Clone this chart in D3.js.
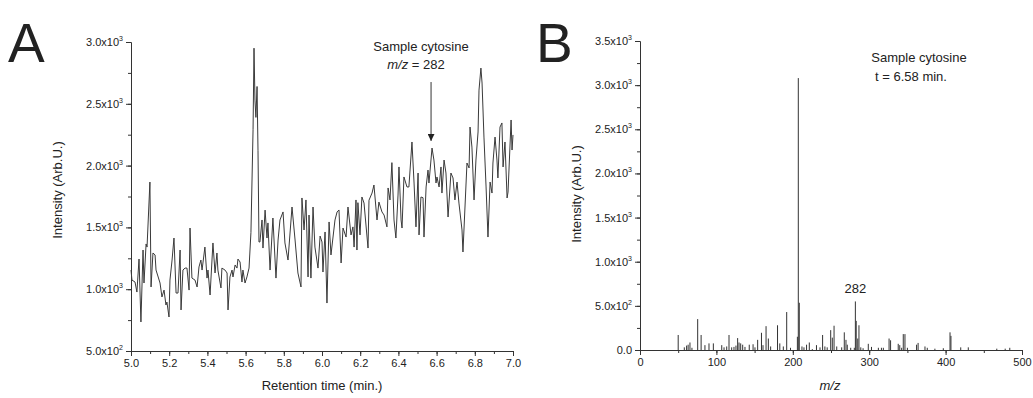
<!DOCTYPE html>
<html lang="en">
  <head>
    <meta charset="UTF-8" />
    <title>Sample cytosine</title>
    <style>
      body {
        margin: 0;
        padding: 0;
        background-color: #ffffff;
        font-family: "Liberation Sans", Arial, sans-serif;
      }
      svg text {
        fill: #222;
      }
      .axis path,
      .axis line {
        stroke: #333;
      }
    </style>
  </head>
  <body>
    <svg id="chart" width="1033" height="398"></svg>

    <script src="https://d3js.org/d3.v7.min.js"></script>
    <script>
      // panel A: retention time (min.) vs intensity
      const retentionTimes = [
        5.000, 5.005, 5.021, 5.031, 5.042, 5.052, 5.063, 5.068, 5.079, 5.084,
        5.099, 5.105, 5.115, 5.126, 5.131, 5.152, 5.162, 5.173, 5.183, 5.188,
        5.199, 5.204, 5.215, 5.225, 5.236, 5.246, 5.257, 5.262, 5.272, 5.283,
        5.293, 5.304, 5.309, 5.319, 5.335, 5.346, 5.356, 5.366, 5.372, 5.387,
        5.398, 5.403, 5.414, 5.429, 5.440, 5.450, 5.455, 5.471, 5.476, 5.492,
        5.503, 5.508, 5.518, 5.529, 5.534, 5.545, 5.555, 5.560, 5.571, 5.581,
        5.586, 5.597, 5.607, 5.618, 5.628, 5.639, 5.644, 5.649, 5.654, 5.660,
        5.665, 5.670, 5.675, 5.686, 5.691, 5.702, 5.712, 5.717, 5.728, 5.743,
        5.759, 5.770, 5.780, 5.796, 5.806, 5.822, 5.843, 5.859, 5.874, 5.890,
        5.895, 5.906, 5.916, 5.927, 5.932, 5.942, 5.953, 5.963, 5.979, 5.990,
        6.000, 6.005, 6.016, 6.026, 6.037, 6.047, 6.068, 6.079, 6.089, 6.100,
        6.110, 6.126, 6.136, 6.152, 6.162, 6.168, 6.178, 6.183, 6.188, 6.199,
        6.209, 6.220, 6.241, 6.246, 6.262, 6.272, 6.288, 6.298, 6.314, 6.325,
        6.340, 6.346, 6.356, 6.366, 6.377, 6.387, 6.398, 6.403, 6.414, 6.419,
        6.429, 6.445, 6.455, 6.471, 6.482, 6.492, 6.503, 6.508, 6.518, 6.529,
        6.534, 6.545, 6.555, 6.560, 6.576, 6.586, 6.597, 6.602, 6.613, 6.623,
        6.628, 6.639, 6.649, 6.660, 6.675, 6.686, 6.696, 6.707, 6.717, 6.733,
        6.738, 6.759, 6.770, 6.775, 6.785, 6.796, 6.806, 6.817, 6.822, 6.832,
        6.838, 6.848, 6.859, 6.869, 6.880, 6.890, 6.895, 6.906, 6.916, 6.921,
        6.932, 6.942, 6.948, 6.958, 6.969, 6.974, 6.990, 6.995, 7.000
      ];
      const intensitiesA = [
        1155, 1074, 1058, 977, 1244, 735, 1317, 1050, 1366, 1341,
        1867, 1018, 1293, 1277, 1155, 1050, 937, 993, 872, 896,
        775, 1074, 1236, 1414, 969, 969, 1317, 832, 1155, 1171,
        1171, 993, 1495, 1090, 1074, 1018, 1180, 1236, 1155, 1341,
        1090, 1155, 953, 1374, 1131, 1293, 1155, 1010, 1171, 1155,
        1131, 832, 1099, 1155, 1099, 1196, 1171, 1244, 1220, 1058,
        1155, 1050, 1099, 1171, 1460, 2290, 2950, 2530, 2390, 2640,
        2120, 1382, 1382, 1560, 1333, 1640, 1414, 1536, 1155, 1576,
        1090, 1398, 1560, 1625, 1374, 1236, 1665, 1398, 1131, 1018,
        1738, 1479, 1722, 1099, 1600, 1090, 1665, 1341, 1171, 1430,
        1382, 1139, 1463, 888, 1544, 1277, 1560, 1625, 1641, 1212,
        1495, 1422, 1665, 1439, 1504, 1341, 1722, 1317, 1700, 1439,
        1746, 1697, 1333, 1720, 1778, 1843, 1560, 1705, 1625, 1600,
        1504, 1819, 1722, 2024, 1560, 1414, 1762, 1989, 1560, 1495,
        1908, 1827, 1827, 2191, 1859, 1504, 1940, 1439, 1746, 1740,
        1422, 1827, 1964, 1859, 2142, 2045, 1859, 1908, 1827, 1989,
        1778, 2045, 1940, 1584, 1940, 1900, 1722, 1867, 1697, 1479,
        1301, 2021, 1981, 2312, 2150, 1722, 2045, 2272, 2611, 2789,
        2668, 2231, 1827, 1422, 1867, 1778, 2021, 2231, 2045, 1900,
        2312, 2345, 1989, 2191, 1738, 1786, 2369, 2126, 2248
      ];
      const yTicksA = [500, 1000, 1500, 2000, 2500, 3000];
      const xTicksA = [5.0, 5.2, 5.4, 5.6, 5.8, 6.0, 6.2, 6.4, 6.6, 6.8, 7.0];

      // panel B: mass spectrum at t = 6.58 min.
      const mzValues = [
        50, 58, 61, 63, 65.4, 68, 75.5, 80, 85, 90.3,
        96, 107, 110, 113.5, 116.5, 120, 123, 125.6, 127.8, 129.6,
        131.8, 134.4, 137.4, 143, 148, 150.5, 154, 159, 161, 165,
        168, 171, 180, 183, 187.6, 192, 197, 206, 207.2, 208.5,
        212, 214.6, 218, 221.6, 225.5, 231, 235.6, 239, 242, 245,
        249.6, 251.7, 254, 257.5, 264, 267.4, 269.6, 271.3, 275.8, 280.5,
        281.9, 283, 285, 286.6, 289, 292, 298.8, 303, 312, 316,
        318.5, 326, 328, 338, 340, 342.5, 344.6, 346.8, 350, 362,
        364, 373, 376, 386, 397, 405.8, 407, 419.8, 429.7, 467,
        478, 484
      ];
      const intensitiesB = [
        170, 30, 50, 60, 85, 25, 350, 170, 55, 75,
        75, 55, 30, 40, 170, 30, 35, 50, 135, 85,
        75, 60, 35, 60, 65, 30, 115, 195, 55, 270,
        130, 40, 280, 75, 40, 430, 25, 150, 3080, 535,
        40, 30, 60, 85, 10, 55, 30, 170, 40, 30,
        225, 140, 275, 40, 30, 200, 115, 60, 25, 25,
        550, 330, 130, 280, 30, 20, 70, 35, 25, 25,
        25, 130, 110, 70, 55, 25, 180, 180, 25, 60,
        80, 40, 25, 15, 20, 200, 160, 30, 30, 15,
        15, 25
      ];
      const yTicksB = [0, 500, 1000, 1500, 2000, 2500, 3000, 3500];
      const xTicksB = [0, 100, 200, 300, 400, 500];

      const svg = d3.select("#chart");

      const xA = d3.scaleLinear().domain([5.0, 7.0]).range([131, 513]);
      const yA = d3.scaleLinear().domain([500, 3000]).range([351, 42]);
      const xB = d3.scaleLinear().domain([0, 500]).range([640, 1022]);
      const yB = d3.scaleLinear().domain([0, 3500]).range([350, 41]);

      // labels like 2.5x10^3 with a small raised exponent
      function sciLabel(sel) {
        sel.each(function (d) {
          const t = d3.select(this).text("");
          if (d === 0) {
            t.text("0.0");
            return;
          }
          const e = Math.floor(Math.log10(d));
          const m = (d / Math.pow(10, e)).toFixed(1);
          t.append("tspan").text(m + "x10");
          t.append("tspan")
            .attr("dy", -5)
            .attr("font-size", 7)
            .text(e);
        });
      }

      function drawAxes(x, y, xTicks, xMinor, yTicks, yMinor, xFmt) {
        const g = svg.append("g");
        const xAxis = g
          .append("g")
          .attr("class", "axis")
          .attr("transform", `translate(0,${y.range()[0]})`);
        xAxis.call(
          d3.axisBottom(x).tickValues(xMinor).tickSize(3).tickFormat("")
        );
        xAxis
          .append("g")
          .call(d3.axisBottom(x).tickValues(xTicks).tickSize(5).tickFormat(xFmt))
          .call((s) => s.select(".domain").remove());

        const yAxis = g
          .append("g")
          .attr("class", "axis")
          .attr("transform", `translate(${x.range()[0]},0)`);
        yAxis.call(
          d3.axisLeft(y).tickValues(yMinor).tickSize(3).tickFormat("")
        );
        const yMaj = yAxis
          .append("g")
          .call(d3.axisLeft(y).tickValues(yTicks).tickSize(5))
          .call((s) => s.select(".domain").remove());
        yMaj.selectAll(".tick text").call(sciLabel);

        g.selectAll(".tick text")
          .attr("font-family", "Liberation Sans, Arial, sans-serif")
          .attr("font-size", 11)
          .attr("fill", "#222");
        g.selectAll(".domain").attr("stroke", "#333");
        g.selectAll(".tick line").attr("stroke", "#333");
        return g;
      }

      // ----- panel A -----
      drawAxes(
        xA,
        yA,
        xTicksA,
        d3.range(5.0, 7.0001, 0.1),
        yTicksA,
        d3.range(500, 3001, 250),
        d3.format(".1f")
      );

      svg
        .append("path")
        .datum(retentionTimes.map((t, i) => [t, intensitiesA[i]]))
        .attr("fill", "none")
        .attr("stroke", "#3a3a3a")
        .attr("stroke-width", 1)
        .attr("stroke-linejoin", "round")
        .attr("d", d3.line().x((d) => xA(d[0])).y((d) => yA(d[1])));

      svg
        .append("defs")
        .append("marker")
        .attr("id", "arrow")
        .attr("viewBox", "0 0 10 10")
        .attr("refX", 10)
        .attr("refY", 5)
        .attr("markerWidth", 7)
        .attr("markerHeight", 7)
        .attr("orient", "auto")
        .append("path")
        .attr("d", "M0,0L10,5L0,10z")
        .attr("fill", "#222");

      svg
        .append("line")
        .attr("x1", xA(6.571))
        .attr("x2", xA(6.571))
        .attr("y1", yA(2676))
        .attr("y2", yA(2200))
        .attr("stroke", "#333")
        .attr("stroke-width", 1)
        .attr("marker-end", "url(#arrow)");

      svg
        .append("text")
        .attr("x", 421)
        .attr("y", 51)
        .attr("text-anchor", "middle")
        .attr("font-size", 13)
        .text("Sample cytosine");
      const mzA = svg
        .append("text")
        .attr("x", 416)
        .attr("y", 69)
        .attr("text-anchor", "middle")
        .attr("font-size", 13);
      mzA.append("tspan").attr("font-style", "italic").text("m/z");
      mzA.append("tspan").text(" = 282");

      svg
        .append("text")
        .attr("x", 322)
        .attr("y", 390)
        .attr("text-anchor", "middle")
        .attr("font-size", 13)
        .text("Retention time (min.)");
      svg
        .append("text")
        .attr("transform", "translate(62,190) rotate(-90)")
        .attr("text-anchor", "middle")
        .attr("font-size", 13)
        .text("Intensity (Arb.U.)");

      svg
        .append("text")
        .attr("x", 8)
        .attr("y", 62)
        .attr("font-size", 55)
        .attr("fill", "#111")
        .text("A");

      // ----- panel B -----
      drawAxes(
        xB,
        yB,
        xTicksB,
        d3.range(0, 501, 50),
        yTicksB,
        d3.range(0, 3501, 250),
        d3.format("d")
      );

      svg
        .append("g")
        .selectAll("line")
        .data(mzValues.map((m, i) => [m, intensitiesB[i]]))
        .join("line")
        .attr("x1", (d) => xB(d[0]))
        .attr("x2", (d) => xB(d[0]))
        .attr("y1", yB(0))
        .attr("y2", (d) => yB(d[1]))
        .attr("stroke", "#333")
        .attr("stroke-width", 1);

      svg
        .append("text")
        .attr("x", 919)
        .attr("y", 62)
        .attr("text-anchor", "middle")
        .attr("font-size", 13)
        .text("Sample cytosine");
      svg
        .append("text")
        .attr("x", 911)
        .attr("y", 81)
        .attr("text-anchor", "middle")
        .attr("font-size", 13)
        .text("t = 6.58 min.");
      svg
        .append("text")
        .attr("x", xB(282))
        .attr("y", 293)
        .attr("text-anchor", "middle")
        .attr("font-size", 13)
        .text("282");

      svg
        .append("text")
        .attr("x", 830)
        .attr("y", 390)
        .attr("text-anchor", "middle")
        .attr("font-size", 13)
        .attr("font-style", "italic")
        .text("m/z");
      svg
        .append("text")
        .attr("transform", "translate(581,194) rotate(-90)")
        .attr("text-anchor", "middle")
        .attr("font-size", 13)
        .text("Intensity (Arb.U.)");

      svg
        .append("text")
        .attr("x", 536)
        .attr("y", 62)
        .attr("font-size", 55)
        .attr("fill", "#111")
        .text("B");
    </script>
  </body>
</html>
